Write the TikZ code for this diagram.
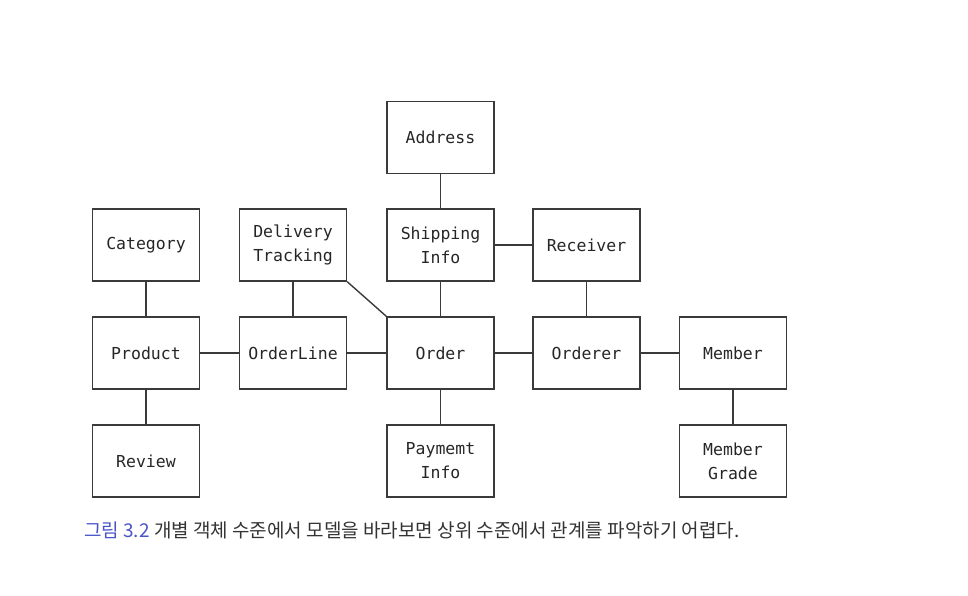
\documentclass[tikz,border=0pt]{standalone}
\usepackage{fontspec}
\newfontfamily\monofont{DejaVu Sans Mono}
\newfontfamily\cjk{Noto Sans CJK KR}
\definecolor{linec}{HTML}{3A3A3A}
\definecolor{capblue}{HTML}{4A55C8}
\definecolor{captext}{HTML}{333333}
\begin{document}
\begin{tikzpicture}[x=1pt,y=-1pt,
  ent/.style={draw=linec, line width=1.4pt, minimum width=107pt, minimum height=72pt,
    inner sep=0pt, align=center, font=\monofont\fontsize{16.5}{24}\selectfont, text=black!85},
  link/.style={draw=linec, line width=1.4pt}]
\useasboundingbox (0,0) rectangle (968,596);
\node[ent] (addr) at (440.5,137.5) {Address};
\node[ent] (cat) at (146,245) {Category};
\node[ent] (dt) at (293,245) {Delivery\\Tracking};
\node[ent] (ship) at (440.5,245) {Shipping\\Info};
\node[ent] (recv) at (586.5,245) {Receiver};
\node[ent] (prod) at (146,353) {Product};
\node[ent] (ol) at (293,353) {OrderLine};
\node[ent] (ord) at (440.5,353) {Order};
\node[ent] (orderer) at (586.5,353) {Orderer};
\node[ent] (mem) at (733,353) {Member};
\node[ent] (rev) at (146,461) {Review};
\node[ent] (pay) at (440.5,461) {Paymemt\\Info};
\node[ent] (mg) at (733,461) {Member\\Grade};
\draw[link] (addr) -- (ship);
\draw[link] (ship) -- (recv);
\draw[link] (ship) -- (ord);
\draw[link] (dt) -- (ol);
\draw[link] (dt.south east) -- (ord.north west);
\draw[link] (cat) -- (prod);
\draw[link] (prod) -- (ol);
\draw[link] (ol) -- (ord);
\draw[link] (ord) -- (orderer);
\draw[link] (orderer) -- (mem);
\draw[link] (recv) -- (orderer);
\draw[link] (ord) -- (pay);
\draw[link] (prod) -- (rev);
\draw[link] (mem) -- (mg);
\node[anchor=west, inner sep=0pt, font=\cjk\fontsize{19}{22}\selectfont, text=captext] (cap) at (84,530)
  {{\color{capblue}그림 3.2} 개별 객체 수준에서 모델을 바라보면 상위 수준에서 관계를 파악하기 어렵다.};
\end{tikzpicture}
\end{document}
